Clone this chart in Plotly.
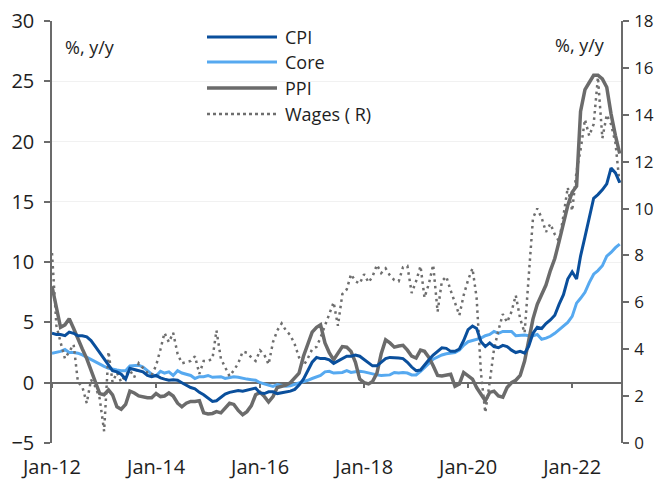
import pandas as pd
import plotly.graph_objects as go

# ---------------- data (monthly, Jan-2012 .. Dec-2022) ----------------
start_month = "2012-01-01"
n_months = 132

cpi = [4.1, 4.0, 4.0, 3.9, 4.2, 4.1, 3.9, 3.9, 3.8, 3.5, 3.0, 2.5,
       2.0, 1.4, 1.0, 0.9, 0.7, 0.3, 1.2, 1.1, 1.0, 0.9, 0.6, 0.5,
       0.6, 0.4, 0.3, 0.2, 0.25, 0.2, 0.0, -0.2, -0.4, -0.5, -0.8, -1.0,
       -1.3, -1.55, -1.5, -1.2, -0.95, -0.8, -0.7, -0.65, -0.7, -0.6, -0.55, -0.45,
       -0.85, -0.9, -0.75, -0.75, -0.9, -0.85, -0.8, -0.7, -0.55, -0.2, 0.3, 1.0,
       1.7, 2.1, 2.0, 2.0, 1.9, 1.6, 1.8, 2.0, 2.2, 2.2, 2.3, 2.2,
       1.95, 1.65, 1.4, 1.4, 1.7, 2.0, 2.1, 2.1, 2.05, 2.0, 1.7, 1.3,
       1.0, 1.05, 1.5, 1.9, 2.3, 2.6, 2.9, 2.85, 2.6, 2.6, 2.8, 3.5,
       4.4, 4.7, 4.5, 3.4, 3.0, 3.3, 3.0, 2.9, 3.1, 3.0, 2.7, 2.5,
       2.6, 2.45, 3.0, 4.1, 4.6, 4.5, 4.9, 5.2, 5.6, 6.5, 7.3, 8.6,
       9.2, 8.6, 10.5, 12.1, 13.8, 15.3, 15.6, 16.0, 16.5, 17.8, 17.4, 16.6]

core = [2.45, 2.5, 2.6, 2.75, 2.5, 2.5, 2.45, 2.3, 2.1, 1.9, 1.7, 1.5,
        1.35, 1.2, 1.1, 1.05, 1.0, 1.0, 1.4, 1.4, 1.45, 1.3, 1.0, 0.7,
        0.55, 0.95, 0.8, 0.9, 0.6, 1.0, 0.8, 0.7, 0.6, 0.35, 0.5, 0.5,
        0.6, 0.45, 0.45, 0.5, 0.35, 0.4, 0.5, 0.45, 0.35, 0.3, 0.25, 0.2,
        0.0, -0.1, -0.2, -0.3, -0.15, -0.25, -0.3, -0.25, -0.15, 0.0, 0.1, 0.2,
        0.35, 0.5, 0.6, 0.9, 0.95, 0.8, 0.8, 0.85, 1.0, 0.85, 0.9, 0.95,
        0.9, 0.8, 0.75, 0.65, 0.6, 0.65, 0.65, 0.85, 0.8, 0.85, 0.8, 0.65,
        0.65, 0.95, 1.3, 1.6, 1.95, 2.15, 2.3, 2.4, 2.45, 2.5, 2.7, 3.1,
        3.4, 3.5, 3.6, 3.7, 3.9, 4.0, 4.25, 4.1, 4.25, 4.25, 4.25, 3.9,
        3.95, 3.95, 3.9, 3.9, 4.0, 3.6, 3.7, 3.85, 4.1, 4.4, 4.7, 5.0,
        5.5, 6.6, 7.0, 7.5, 8.3, 9.0, 9.3, 9.7, 10.5, 10.8, 11.2, 11.5]

ppi = [8.0, 6.2, 4.6, 4.8, 5.3, 4.5, 3.6, 2.8, 2.0, 1.0, 0.0, -0.9,
       -1.0, -0.6, -1.0, -2.0, -2.2, -1.8, -0.7, -0.85, -1.1, -1.2, -1.25, -1.25,
       -0.9, -1.15, -1.1, -0.85, -1.1, -1.7, -2.0, -1.7, -1.55, -1.55, -1.5, -2.5,
       -2.6, -2.55, -2.4, -2.5, -2.1, -1.7, -1.8, -2.3, -2.65, -2.4, -1.9, -1.0,
       -0.8, -1.15, -1.6, -1.15, -0.4, -0.3, -0.2, 0.0, 0.4, 0.8, 2.2, 3.2,
       4.2, 4.6, 4.8, 3.3, 2.5, 1.9, 2.4, 3.0, 2.95, 2.6, 1.7, 0.3,
       0.0, -0.1, 0.1, 0.8, 2.4, 3.55, 3.3, 2.95, 3.05, 3.1, 2.7, 2.2,
       2.05, 2.7, 2.6, 2.1, 1.4, 0.6, 0.55, 0.6, 0.7, -0.3, -0.1, 0.85,
       0.6, 0.3, -0.4, -1.0, -1.5, -0.8, -0.7, -1.1, -1.2, -0.4, 0.0, 0.2,
       0.6, 1.8, 3.5, 5.3, 6.5, 7.3, 8.1, 9.3, 10.3, 11.7, 13.3, 14.7,
       15.8, 16.3, 22.5, 24.3, 24.9, 25.5, 25.5, 25.2, 24.5, 22.3, 20.5, 19.0]

wages = [8.1, 5.0, 4.3, 3.6, 3.9, 4.2, 2.6, 2.4, 1.7, 2.7, 2.4, 1.9,
         0.5, 3.9, 2.6, 3.0, 2.6, 2.9, 3.1, 2.8, 3.4, 3.2, 3.0, 2.9,
         3.3, 4.0, 4.7, 4.3, 4.7, 3.8, 3.4, 3.45, 3.5, 3.7, 2.95, 3.5,
         3.5, 3.6, 4.8, 3.6, 3.2, 2.85, 3.1, 3.4, 3.9, 3.85, 3.65, 3.5,
         3.95, 3.75, 3.35, 4.3, 4.8, 5.1, 4.8, 4.6, 4.2, 3.65, 3.3, 3.6,
         4.0, 4.1, 4.5, 5.0, 5.5, 6.0, 5.0, 6.35, 6.55, 7.2, 6.9, 6.8,
         7.2, 6.85, 7.1, 7.6, 7.25, 7.45, 7.15, 6.95, 6.9, 7.5, 7.55, 6.4,
         6.9, 7.55, 6.2, 6.8, 7.6, 5.6, 6.9, 7.1, 6.5, 6.0, 5.45, 6.3,
         6.95, 7.45, 6.2, 2.95, 1.3, 2.6, 4.0, 4.8, 5.5, 5.15, 5.6, 6.3,
         5.3, 4.7, 7.0, 9.6, 10.0, 9.6, 9.0, 9.35, 8.9, 8.6, 9.7, 10.9,
         9.9, 11.6, 12.5, 13.8, 13.1, 13.6, 15.6, 13.0, 14.0, 13.6, 12.8, 11.0]

tick_dates = ["2012-01-01", "2014-01-01", "2016-01-01", "2018-01-01", "2020-01-01", "2022-01-01"]
tick_labels = ["Jan-12", "Jan-14", "Jan-16", "Jan-18", "Jan-20", "Jan-22"]
left_ticks = [-5, 0, 5, 10, 15, 20, 25, 30]
right_ticks = [0, 2, 4, 6, 8, 10, 12, 14, 16, 18]
series_names = ["CPI", "Core", "PPI", "Wages ( R)"]
unit_label = "%, y/y"

# ---------------- styling ----------------
C_CPI = "#0a4f9c"
C_CORE = "#56a9f0"
C_PPI = "#6b6b6b"
C_WAGE = "#6e6e6e"
AXIS = "#6b6b6b"
TXT = "#1e1e1e"
FONT = "Open Sans"
FS = 20
LEG_FS = 18
RIGHT_FS = 17

months = pd.date_range(start_month, periods=n_months, freq="MS")
x_range = ["2012-01-01", "2022-12-10"]
L_MIN, L_MAX = -5, 30

fig = go.Figure()
fig.add_trace(go.Scatter(x=months, y=cpi, name=series_names[0], mode="lines",
                         line=dict(color=C_CPI, width=3), xaxis="x2", yaxis="y"))
fig.add_trace(go.Scatter(x=months, y=core, name=series_names[1], mode="lines",
                         line=dict(color=C_CORE, width=3), xaxis="x", yaxis="y"))
fig.add_trace(go.Scatter(x=months, y=ppi, name=series_names[2], mode="lines",
                         line=dict(color=C_PPI, width=3.5), xaxis="x", yaxis="y"))
fig.add_trace(go.Scatter(x=months, y=wages, name=series_names[3], mode="lines",
                         line=dict(color=C_WAGE, width=2.5, dash="2.5px,4px"),
                         xaxis="x", yaxis="y2"))

# manual legend (long sample lines like the original)
styles = [(C_CPI, 3, "solid"), (C_CORE, 3, "solid"), (C_PPI, 3.5, "solid"), (C_WAGE, 2.5, "dot")]
row_px = [37, 62, 88, 114]
plot_top, plot_h, plot_l, plot_w = 21, 422, 52, 569
shapes = []
annotations = []
for name, (col, w, d), ry in zip(series_names, styles, row_px):
    yp = (plot_top + plot_h - ry) / plot_h
    shapes.append(dict(type="line", xref="paper", yref="paper",
                       x0=(207 - plot_l) / plot_w, x1=(277 - plot_l) / plot_w, y0=yp, y1=yp,
                       line=dict(color=col, width=w, dash=d)))
    annotations.append(dict(text=name, xref="paper", yref="paper",
                            x=(283 - plot_l) / plot_w, y=yp, xanchor="left", yanchor="middle",
                            showarrow=False, font=dict(family=FONT, size=LEG_FS, color=TXT)))

annotations.append(dict(text=unit_label, xref="paper", yref="paper",
                        x=(63 - plot_l) / plot_w, y=(plot_top + plot_h - 47) / plot_h,
                        xanchor="left", yanchor="middle", showarrow=False,
                        font=dict(family=FONT, size=18, color=TXT)))
annotations.append(dict(text=unit_label, xref="paper", yref="paper",
                        x=(607 - plot_l) / plot_w, y=(plot_top + plot_h - 45) / plot_h,
                        xanchor="right", yanchor="middle", showarrow=False,
                        font=dict(family=FONT, size=18, color=TXT)))

fig.update_layout(
    width=656, height=479,
    margin=dict(l=52, r=35, t=21, b=36, autoexpand=False),
    paper_bgcolor="white", plot_bgcolor="white",
    showlegend=False,
    font=dict(family=FONT, size=FS, color=TXT),
    shapes=shapes, annotations=annotations,
    xaxis=dict(range=x_range, tickvals=tick_dates, ticktext=tick_labels,
               showline=False, ticks="", showgrid=False, zeroline=False, automargin=False,
               tickfont=dict(family=FONT, size=FS, color=TXT), ticklabelstandoff=10),
    xaxis2=dict(range=x_range, overlaying="x", anchor="free", position=(0 - L_MIN) / (L_MAX - L_MIN),
                tickvals=tick_dates, showticklabels=False, ticks="outside", ticklen=4,
                tickcolor=AXIS, tickwidth=1.5, showline=False, showgrid=False, zeroline=False,
                automargin=False),
    yaxis=dict(range=[L_MIN, L_MAX], tickvals=left_ticks, showline=True, linecolor=AXIS, linewidth=1.5,
               ticks="outside", ticklen=6, tickcolor=AXIS, tickwidth=1.5,
               showgrid=True, gridcolor="#f1f1f1", gridwidth=1, automargin=False,
               zeroline=True, zerolinecolor=AXIS, zerolinewidth=1.5,
               tickfont=dict(family=FONT, size=FS, color=TXT), ticklabelstandoff=6),
    yaxis2=dict(range=[0, 18], tickvals=right_ticks, overlaying="y", side="right", anchor="x",
                showline=True, linecolor=AXIS, linewidth=1.5, automargin=False,
                ticks="outside", ticklen=6, tickcolor=AXIS, tickwidth=1.5,
                showgrid=False, zeroline=False,
                tickfont=dict(family=FONT, size=RIGHT_FS, color=TXT), ticklabelstandoff=2),
)

fig.write_html("out.html", config={"displayModeBar": False},
               post_script="document.body.style.margin='0';")
